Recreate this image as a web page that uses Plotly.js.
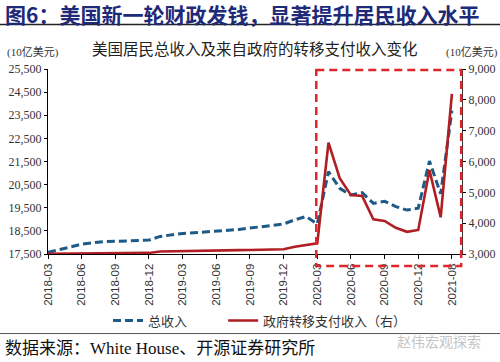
<!DOCTYPE html>
<html>
<head>
<meta charset="utf-8">
<script src="https://cdn.plot.ly/plotly-3.0.1.min.js"></script>
<style>
html,body{margin:0;padding:0;background:#fff;}
#chart{width:500px;height:362px;}
</style>
</head>
<body>
<div id="chart"></div>
<script>
// Monthly categories, 2018-03 .. 2021-03
const months = [
  "2018-03","2018-04","2018-05","2018-06","2018-07","2018-08","2018-09","2018-10","2018-11","2018-12",
  "2019-01","2019-02","2019-03","2019-04","2019-05","2019-06","2019-07","2019-08","2019-09","2019-10","2019-11","2019-12",
  "2020-01","2020-02","2020-03","2020-04","2020-05","2020-06","2020-07","2020-08","2020-09","2020-10","2020-11","2020-12",
  "2021-01","2021-02","2021-03"
];
// 总收入 (10亿美元, left axis)
const totalIncome = [
  17573,17680,17800,17930,18000,18040,18050,18060,18075,18100,
  18260,18330,18390,18420,18450,18470,18520,18560,18620,18680,18720,18800,
  18980,19120,18800,21060,20340,20050,20150,19690,19780,19550,19400,19480,
  21520,20100,23700
];
// 政府转移支付收入 (10亿美元, right axis)
const transferIncome = [
  3010,3012,3015,3018,3020,3022,3025,3028,3030,3035,
  3080,3090,3095,3100,3105,3110,3120,3125,3130,3135,3145,3155,
  3235,3290,3345,6610,5460,4910,4880,4125,4070,3850,3720,3780,
  5720,4190,8190
];
// Tick positions / labels on the x axis
const tickMonths = ["2018-03","2018-06","2018-09","2018-12","2019-03","2019-06","2019-09","2019-12","2020-03","2020-06","2020-09","2020-12","2021-03"];
const tickLabels = ["2018-03","2018-06","2018-09","2018-12","2019-03","2019-06","2019-09","2019-12","2020-03","2020-06","2020-09","2020-12","2021-08"];
const leftTicks = [17500,18500,19500,20500,21500,22500,23500,24500,25500];
const rightTicks = [3000,4000,5000,6000,7000,8000,9000];

const serif = "Liberation Serif, Times New Roman, Noto Sans CJK SC, serif";
const cjk = "Noto Sans CJK SC, sans-serif";

const traces = [
  {
    x: months, y: totalIncome, name: "总收入", type: "scatter", mode: "lines",
    line: {color: "#1f5a86", width: 3, dash: "8px,4px"}, yaxis: "y", legend: "legend"
  },
  {
    x: months, y: transferIncome, name: "政府转移支付收入（右）", type: "scatter", mode: "lines",
    line: {color: "#b01e23", width: 2.6}, yaxis: "y2", legend: "legend2"
  }
];

const legendFont = {family: cjk, size: 13, color: "#333"};

const layout = {
  width: 500, height: 362,
  margin: {l: 48, r: 38, t: 69, b: 108},
  paper_bgcolor: "#fff", plot_bgcolor: "#fff",
  showlegend: true,
  legend: {
    orientation: "h", x: 0.145, xanchor: "left", y: -0.36, yanchor: "middle",
    font: legendFont, bgcolor: "rgba(0,0,0,0)"
  },
  legend2: {
    orientation: "h", x: 0.423, xanchor: "left", y: -0.36, yanchor: "middle",
    font: legendFont, bgcolor: "rgba(0,0,0,0)"
  },
  xaxis: {
    type: "category", range: [0, 36.9],
    tickmode: "array", tickvals: tickMonths, ticktext: tickLabels,
    tickangle: -90, ticks: "outside", ticklen: 4, tickcolor: "#000",
    showline: true, linecolor: "#000", linewidth: 1, showgrid: false, zeroline: false,
    tickfont: {family: "Liberation Sans, Arial, sans-serif", size: 11.5, color: "#333"}
  },
  yaxis: {
    range: [17500, 25500], tickvals: leftTicks, tickformat: ",d",
    ticks: "outside", ticklen: 3, tickcolor: "#000",
    showline: true, linecolor: "#000", linewidth: 1, showgrid: false, zeroline: false,
    tickfont: {family: serif, size: 12, color: "#333"}
  },
  yaxis2: {
    range: [3000, 9000], tickvals: rightTicks, tickformat: ",d", overlaying: "y", side: "right",
    ticks: "outside", ticklen: 3, tickcolor: "#000",
    showline: true, linecolor: "#333", linewidth: 1, showgrid: false, zeroline: false,
    tickfont: {family: serif, size: 12, color: "#333"}
  },
  shapes: [
    {type: "line", xref: "paper", yref: "paper", x0: -0.12, x1: 1.1, y0: 1.24, y1: 1.24,
     line: {color: "#222", width: 1.5}},
    {type: "line", xref: "paper", yref: "paper", x0: -0.12, x1: 1.1, y0: -0.43, y1: -0.43,
     line: {color: "#555", width: 1}},
    {type: "rect", xref: "paper", yref: "paper", x0: 0.648, x1: 0.998, y0: 0.995, y1: -0.065,
     line: {color: "#e0262b", width: 2.5, dash: "8px,5px"}, fillcolor: "rgba(0,0,0,0)"}
  ],
  annotations: [
    {text: "<b>图6：美国新一轮财政发钱，显著提升居民收入水平</b>", xref: "paper", yref: "paper",
     x: -0.109, y: 1.297, xanchor: "left", yanchor: "middle", showarrow: false,
     font: {family: cjk, size: 21, color: "#1e2a78"}},
    {text: "美国居民总收入及来自政府的转移支付收入变化", xref: "paper", yref: "paper",
     x: 0.5, y: 1.115, xanchor: "center", yanchor: "middle", showarrow: false,
     font: {family: cjk, size: 15.5, color: "#222"}},
    {text: "(10亿美元)", xref: "paper", yref: "paper", x: -0.103, y: 1.087,
     xanchor: "left", yanchor: "middle", showarrow: false,
     font: {family: serif, size: 11, color: "#333"}},
    {text: "(10亿美元)", xref: "paper", yref: "paper", x: 1.092, y: 1.087,
     xanchor: "right", yanchor: "middle", showarrow: false,
     font: {family: serif, size: 11, color: "#333"}},
    {text: "数据来源：White House、开源证券研究所", xref: "paper", yref: "paper",
     x: -0.109, y: -0.51, xanchor: "left", yanchor: "middle", showarrow: false,
     font: {family: serif, size: 17, color: "#111"}},
    {text: "赵伟宏观探索", xref: "paper", yref: "paper",
     x: 1.05, y: -0.47, xanchor: "right", yanchor: "middle", showarrow: false,
     font: {family: cjk, size: 14, color: "#c4c4c4"}}
  ]
};

Plotly.newPlot("chart", traces, layout, {staticPlot: true, displayModeBar: false});
</script>
</body>
</html>
